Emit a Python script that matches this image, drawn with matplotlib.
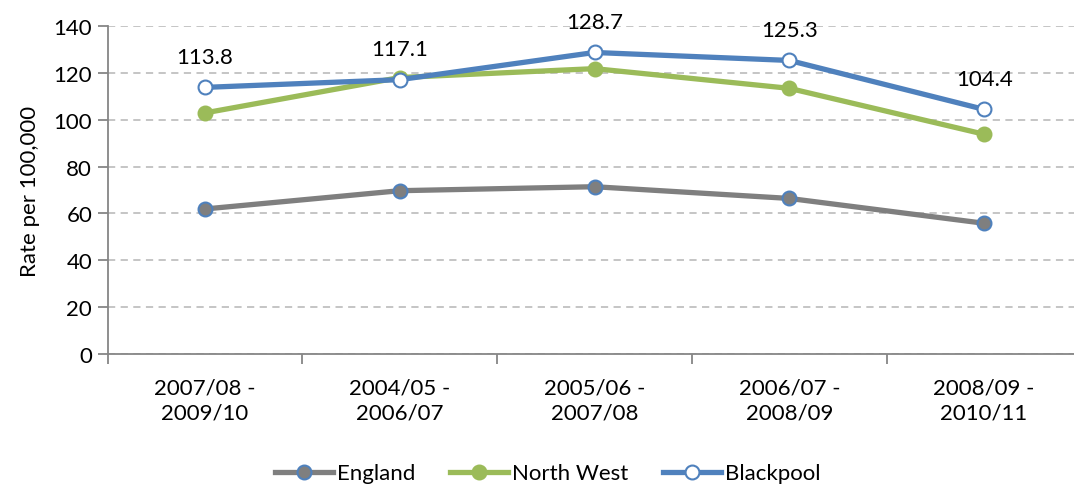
import matplotlib
matplotlib.use("Agg")
import matplotlib.pyplot as plt
from matplotlib.ticker import FixedLocator

plt.rcParams['font.family'] = ['Lato', 'DejaVu Sans']

periods = ["2007/08 -\n2009/10", "2004/05 -\n2006/07", "2005/06 -\n2007/08",
           "2006/07 -\n2008/09", "2008/09 -\n2010/11"]
england = [61.9, 69.7, 71.4, 66.4, 55.8]
north_west = [102.9, 118.0, 121.8, 113.4, 93.8]
blackpool = [113.8, 117.1, 128.7, 125.3, 104.4]

BLUE = "#4f81bd"
GREEN = "#9bbb59"
GREY = "#7f7f7f"
FS = 16

fig = plt.figure(figsize=(10.74, 4.85), dpi=100)
ax = fig.add_axes([107.5 / 1074, 1 - 355 / 485, 974 / 1074, 328 / 485])

x = range(len(periods))
ax.plot(x, england, color=GREY, lw=3.8, marker="o", ms=10, mfc=GREY, mec=BLUE, mew=1.5,
        label="England", zorder=3)
ax.plot(x, north_west, color=GREEN, lw=3.8, marker="o", ms=10, mfc=GREEN, mec=GREEN, mew=1.5,
        label="North West", zorder=3)
ax.plot(x, blackpool, color=BLUE, lw=3.8, marker="o", ms=10, mfc="white", mec=BLUE, mew=1.5,
        label="Blackpool", zorder=4)

for i, v in enumerate(blackpool):
    ax.annotate(f"{v:.1f}", (i, v), xytext=(0, 15), textcoords="offset points",
                ha="center", va="bottom", fontsize=FS)

ax.set_xlim(-0.5, len(periods) - 0.5)
ax.set_ylim(0, 140)
ax.set_yticks(range(0, 141, 20))
ax.set_xticks(list(x))
ax.set_xticklabels(periods, fontsize=FS, linespacing=1.3)
ax.xaxis.set_minor_locator(FixedLocator([i - 0.5 for i in range(len(periods) + 1)]))
ax.tick_params(axis="x", which="major", length=0, pad=17)
ax.tick_params(axis="x", which="minor", length=7, color="#868686", width=1.3)
ax.tick_params(axis="y", labelsize=FS, length=7, color="#868686", width=1.3, pad=4)
ax.set_ylabel("Rate per 100,000", fontsize=FS, labelpad=10)

ax.grid(axis="y", ls=(0, (4, 3)), color="#c0c0c0", lw=1.3)
ax.set_axisbelow(True)
for s in ["top", "right"]:
    ax.spines[s].set_visible(False)
for s in ["left", "bottom"]:
    ax.spines[s].set_color("#868686")
    ax.spines[s].set_linewidth(1.3)

fig.legend(loc="lower center", bbox_to_anchor=(0.51, -0.04), ncol=3, frameon=False,
           fontsize=FS, handlelength=2.6, handletextpad=0.15, columnspacing=1.6)

fig.savefig("out.png", dpi=100)
